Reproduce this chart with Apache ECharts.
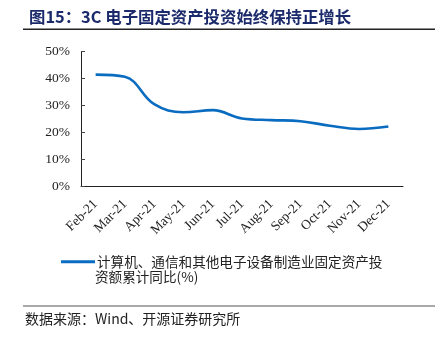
<!DOCTYPE html>
<html>
<head>
<meta charset="utf-8">
<script src="https://cdn.jsdelivr.net/npm/echarts@6/dist/echarts.min.js"></script>
<style>
html,body{margin:0;padding:0;background:#fff;}
#chart{width:442px;height:338px;}
</style>
</head>
<body>
<div id="chart"></div>
<script>
// 月份（累计）
const months = ['Feb-21','Mar-21','Apr-21','May-21','Jun-21','Jul-21','Aug-21','Sep-21','Oct-21','Nov-21','Dec-21'];
// 计算机、通信和其他电子设备制造业固定资产投资额累计同比（%）
const investYoY = [41.4, 40.6, 30.4, 27.4, 28.2, 25.1, 24.5, 24.1, 22.4, 21.2, 22.1];
const yTicks = [0, 10, 20, 30, 40, 50];

const seriesName = '计算机、通信和其他电子设备制造业固定资产投资额累计同比(%)';
// 图例文字分两行：首行跟在图例线后，次行左对齐
const legendLine1 = '计算机、通信和其他电子设备制造业固定资产投';
const legendLine2 = '资额累计同比(%)';
const titleText = '图15：3C 电子固定资产投资始终保持正增长';
const sourceText = '数据来源：Wind、开源证券研究所';

const serif = '"Liberation Serif","Times New Roman",serif';
const cjk = '"Noto Sans CJK SC",sans-serif';

const chart = echarts.init(document.getElementById('chart'), null, {renderer: 'canvas'});
chart.setOption({
  animation: false,
  backgroundColor: '#fff',
  title: {
    text: titleText,
    left: 24, top: 4,
    textStyle: {color: '#1b2a6b', fontSize: 16.4, fontWeight: 'bold', fontFamily: cjk}
  },
  graphic: {
    elements: [
      // 标题下分隔线
      {type: 'line', z: 100, shape: {x1: 23, y1: 29.3, x2: 435, y2: 29.3}, style: {stroke: '#222', lineWidth: 1.5}},
      // 图例次行
      {type: 'text', left: 95, top: 270, style: {text: legendLine2, fill: '#222', font: '13.6px ' + cjk}},
      // 底部分隔线与资料来源
      {type: 'line', z: 100, shape: {x1: 23, y1: 306, x2: 435, y2: 306}, style: {stroke: '#555', lineWidth: 1.2}},
      {type: 'text', left: 25, top: 312, style: {text: sourceText, fill: '#222', font: '14px ' + cjk}}
    ]
  },
  grid: {left: 81, right: 39, top: 51.5, bottom: 152, containLabel: false},
  legend: {
    left: 56, top: 250,
    itemWidth: 34, itemHeight: 3, itemGap: 0,
    icon: 'rect',
    data: [seriesName],
    formatter: function () { return legendLine1; },
    textStyle: {color: '#222', fontSize: 13.6, fontFamily: cjk, padding: [0, 0, 0, -3]}
  },
  xAxis: {
    type: 'category',
    data: months,
    boundaryGap: true,
    axisLine: {lineStyle: {color: '#222', width: 1}},
    axisTick: {inside: true, length: 4, lineStyle: {color: '#444'}},
    axisLabel: {rotate: 45, color: '#222', fontSize: 13.5, fontFamily: serif, margin: 16, interval: 0}
  },
  yAxis: {
    type: 'value',
    min: yTicks[0], max: yTicks[yTicks.length - 1], interval: 10,
    splitLine: {show: false},
    axisLine: {show: true, lineStyle: {color: '#222', width: 1}},
    axisTick: {show: true, inside: true, length: 4, lineStyle: {color: '#444'}},
    axisLabel: {color: '#222', fontSize: 13.5, fontFamily: serif, formatter: '{value}%', margin: 11}
  },
  series: [{
    name: seriesName,
    type: 'line',
    data: investYoY,
    smooth: 0.4,
    symbol: 'none',
    lineStyle: {color: '#0a6cc0', width: 2.6},
    itemStyle: {color: '#0a6cc0'}
  }]
});
</script>
</body>
</html>
